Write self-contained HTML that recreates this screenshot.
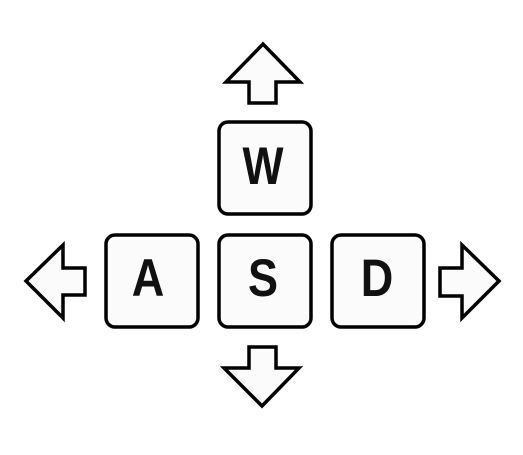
<!DOCTYPE html>
<html><head><meta charset="utf-8"><style>
html,body{margin:0;padding:0;background:#fff;width:523px;height:455px;overflow:hidden}
svg{display:block}
text{font-family:"Liberation Sans",sans-serif;font-weight:bold;font-size:53px;fill:#111;text-anchor:middle}
</style></head><body>
<svg width="523" height="455" viewBox="0 0 523 455">
<g fill="#fbfbfb" stroke="#000" stroke-width="3.5" stroke-linejoin="miter">
<polygon points="263,44 300,82 276,82 276,103 249,103 249,82 226,82"/>
<polygon points="262,406 299,368 276,368 276,347 249,347 249,368 224,368"/>
<polygon points="26,281 63,245 63,268 85,268 85,295 63,295 63,318"/>
<polygon points="499,281 462,245 462,268 440,268 440,296 462,296 462,318"/>
<rect x="219" y="122" width="92" height="92" rx="9"/>
<rect x="106" y="235" width="92" height="92" rx="9"/>
<rect x="219" y="235" width="92" height="92" rx="9"/>
<rect x="332" y="235" width="92" height="92" rx="9"/>
</g>
<g transform="translate(263,184) scale(0.82,1)"><text x="0" y="0">W</text></g>
<g transform="translate(148,296) scale(0.85,1)"><text x="0" y="0">A</text></g>
<g transform="translate(263,296) scale(0.85,1)"><text x="0" y="0">S</text></g>
<g transform="translate(377,296) scale(0.85,1)"><text x="0" y="0">D</text></g>
</svg>
</body></html>
